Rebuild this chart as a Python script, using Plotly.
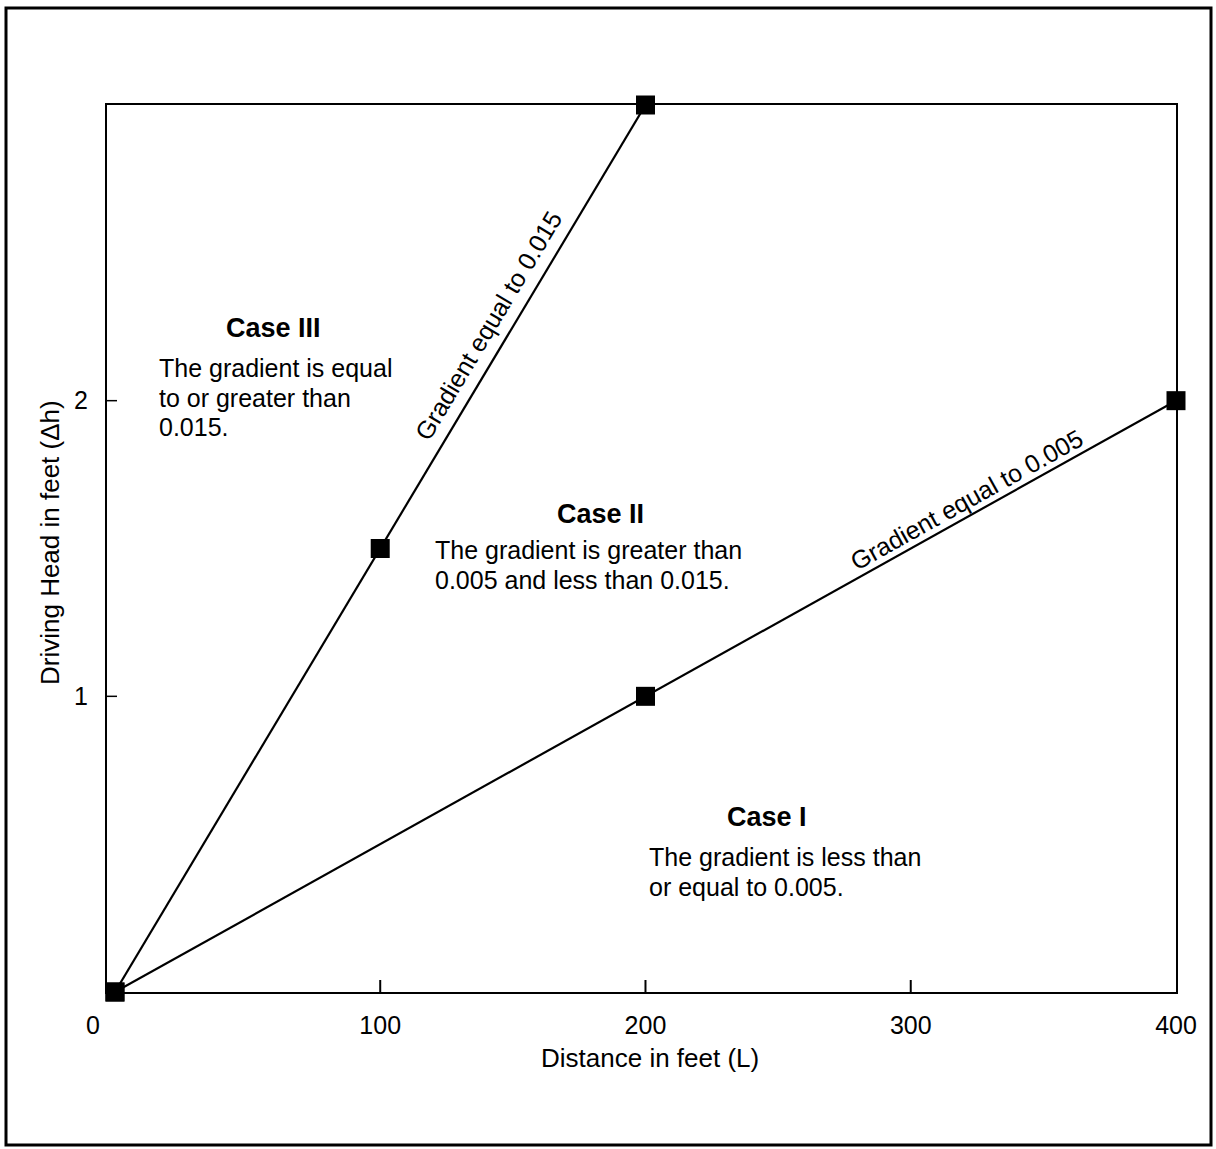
import plotly.graph_objects as go

# Data
distance_steep = [0, 100, 200]
head_steep = [0, 1.5, 3]
distance_shallow = [0, 200, 400]
head_shallow = [0, 1, 2]
x_tick_vals = [100, 200, 300, 400]
x_tick_text = ["100", "200", "300", "400"]
y_tick_vals = [1, 2]
y_tick_text = ["1", "2"]

FONT = "Liberation Sans, Arial, sans-serif"
X_MIN, X_MAX = -3, 400
Y_MIN, Y_MAX = 0, 3

L, R, T, B = 107, 40, 105, 157
W, H = 1216, 1149
PW, PH = W - L - R, H - T - B

def px_to_paper_x(px):
    return (px - L) / PW

def px_to_paper_y(py):
    return (H - B - py) / PH

fig = go.Figure()

for xs, ys in [(distance_steep, head_steep), (distance_shallow, head_shallow)]:
    fig.add_trace(go.Scatter(
        x=xs, y=ys, mode="lines+markers",
        line=dict(color="black", width=2.2),
        marker=dict(symbol="square", size=19, color="black"),
        showlegend=False, hoverinfo="skip", cliponaxis=False,
    ))

shapes = []
# tick marks crossing the axes
for xv in [100, 200, 300]:
    shapes.append(dict(type="line", xref="x", yref="y", ysizemode="pixel", yanchor=0,
                       x0=xv, x1=xv, y0=-10, y1=12, line=dict(color="black", width=2)))
shapes.append(dict(type="line", xref="x", yref="y", ysizemode="pixel", yanchor=0,
                   x0=400, x1=400, y0=-10, y1=0, line=dict(color="black", width=2)))
for yv in y_tick_vals:
    shapes.append(dict(type="line", xref="x", yref="y", xsizemode="pixel", xanchor=X_MIN,
                       x0=-10, x1=10, y0=yv, y1=yv, line=dict(color="black", width=1.5)))
# outer frame
shapes.append(dict(type="rect", xref="paper", yref="paper",
                   x0=px_to_paper_x(6), x1=px_to_paper_x(1211),
                   y0=px_to_paper_y(1145), y1=px_to_paper_y(8),
                   line=dict(color="black", width=3), fillcolor="rgba(0,0,0,0)"))

annotations = []

def dx(px):
    return X_MIN + (px - L) / PW * (X_MAX - X_MIN)
def dy(py):
    return Y_MIN + (H - B - py) / PH * (Y_MAX - Y_MIN)

def add_text(px, py, text, size=25, bold=False, xanchor="left", angle=0):
    annotations.append(dict(
        x=dx(px), y=dy(py), xref="x", yref="y", text=("<b>%s</b>" % text) if bold else text,
        showarrow=False, align="left", xanchor=xanchor, yanchor="middle",
        textangle=angle, font=dict(family=FONT, size=size, color="black"),
    ))

case_titles = ["Case III", "Case II", "Case I"]
case_title_pos = [(273, 328), (600, 514), (767, 817)]
case_lines = [
    ["The gradient is equal", "to or greater than", "0.015."],
    ["The gradient is greater than", "0.005 and less than 0.015."],
    ["The gradient is less than", "or equal to 0.005."],
]
case_line_x = [157, 433, 647]
case_line_y0 = [368, 550, 857]
LINE_GAP = 29.5

for title, (tx, ty), lines, lx, ly0 in zip(case_titles, case_title_pos, case_lines, case_line_x, case_line_y0):
    add_text(tx, ty, title, size=27, bold=True, xanchor="center")
    for i, line in enumerate(lines):
        add_text(lx, ly0 + i * LINE_GAP, line)

add_text(488, 326, "Gradient equal to 0.015", xanchor="center", angle=-59.1)
add_text(966, 500, "Gradient equal to 0.005", xanchor="center", angle=-29.1)

# "0" tick label and axis titles
annotations.append(dict(x=0, y=0, xref="x", yref="y", text="0", showarrow=False,
                        xanchor="center", yanchor="middle",
                        xshift=-22, yshift=-33, font=dict(family=FONT, size=25, color="black")))
annotations.append(dict(x=px_to_paper_x(650), y=0, xref="paper", yref="paper",
                        text="Distance in feet (L)", showarrow=False, yshift=-66,
                        xanchor="center", yanchor="middle",
                        font=dict(family=FONT, size=26, color="black")))
annotations.append(dict(x=0, y=px_to_paper_y(543), xref="paper", yref="paper",
                        text="Driving Head in feet (Δh)", showarrow=False, xshift=-57,
                        xanchor="center", yanchor="middle",
                        textangle=-90, font=dict(family=FONT, size=26, color="black")))

fig.update_layout(
    width=W, height=H,
    margin=dict(l=L, r=R, t=T, b=B),
    paper_bgcolor="white", plot_bgcolor="white",
    shapes=shapes, annotations=annotations,
    font=dict(family=FONT, size=25, color="black"),
)
fig.update_xaxes(range=[X_MIN, X_MAX], tickvals=x_tick_vals, ticktext=x_tick_text,
                 showgrid=False, zeroline=False, showline=True, mirror=True,
                 linecolor="black", linewidth=2, ticks="", ticklabelstandoff=10,
                 tickfont=dict(family=FONT, size=25, color="black"))
fig.update_yaxes(range=[Y_MIN, Y_MAX], tickvals=y_tick_vals, ticktext=y_tick_text,
                 showgrid=False, zeroline=False, showline=True, mirror=True,
                 linecolor="black", linewidth=2, ticks="", ticklabelstandoff=12,
                 tickfont=dict(family=FONT, size=25, color="black"))

fig.write_html("out.html", config={"displayModeBar": False},
               post_script="document.body.style.margin='0';document.body.style.overflow='hidden';")
